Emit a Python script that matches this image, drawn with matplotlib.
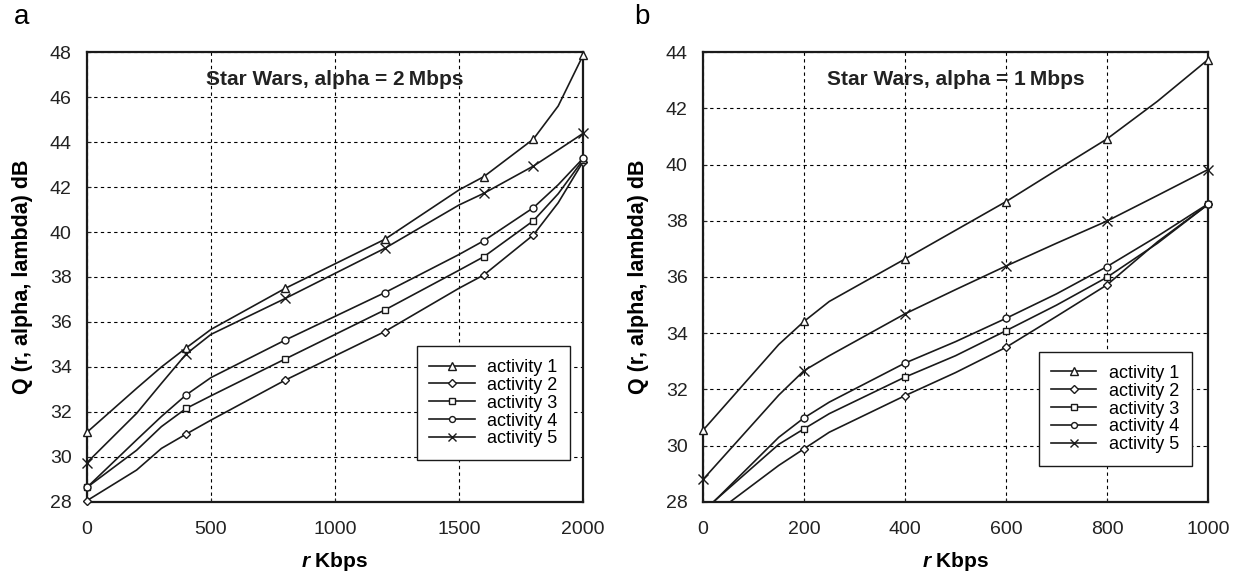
import matplotlib.pyplot as plt
from matplotlib.lines import Line2D

plt.rcParams["font.family"] = ["Liberation Sans", "DejaVu Sans"]
plt.rcParams["mathtext.fontset"] = "custom"
plt.rcParams["mathtext.it"] = "Liberation Sans:italic:bold"
plt.rcParams["mathtext.rm"] = "Liberation Sans:bold"

labels = ["activity 1", "activity 2", "activity 3", "activity 4", "activity 5"]
markers = ["^", "D", "s", "o", "x"]
msizes = [6, 4.5, 5, 5, 7]

# panel a: alpha = 2 Mbps
r_a = [0, 200, 300, 400, 500, 800, 1200, 1500, 1600, 1800, 1900, 2000]
mark_a = [0, 3, 5, 6, 8, 9, 11]
q_a1 = [31.1, 33.05, 34.0, 34.85, 35.67, 37.5, 39.67, 41.87, 42.46, 44.13, 45.6, 47.85]
q_a2 = [28.06, 29.42, 30.38, 31.02, 31.64, 33.42, 35.57, 37.5, 38.09, 39.87, 41.3, 43.12]
q_a3 = [28.65, 30.3, 31.35, 32.16, 32.72, 34.36, 36.53, 38.3, 38.9, 40.5, 41.7, 43.2]
q_a4 = [28.65, 30.76, 31.8, 32.76, 33.53, 35.2, 37.3, 39.0, 39.61, 41.08, 42.1, 43.27]
q_a5 = [29.75, 31.94, 33.27, 34.58, 35.45, 37.05, 39.27, 41.2, 41.72, 42.93, 43.65, 44.38]

# panel b: alpha = 1 Mbps
r_b = [0, 150, 200, 250, 400, 500, 600, 700, 800, 900, 1000]
mark_b = [0, 2, 4, 6, 8, 10]
q_b1 = [30.55, 33.6, 34.42, 35.13, 36.64, 37.66, 38.68, 39.8, 40.91, 42.25, 43.73]
q_b2 = [27.28, 29.3, 29.89, 30.48, 31.78, 32.6, 33.5, 34.6, 35.72, 37.25, 38.58]
q_b3 = [27.68, 30.05, 30.6, 31.14, 32.44, 33.2, 34.09, 35.0, 35.99, 37.2, 38.58]
q_b4 = [27.63, 30.3, 30.99, 31.55, 32.94, 33.7, 34.53, 35.4, 36.37, 37.45, 38.6]
q_b5 = [28.8, 31.8, 32.67, 33.2, 34.69, 35.55, 36.39, 37.2, 37.99, 38.9, 39.82]

LC = "#1a1a1a"

fig = plt.figure(figsize=(12.5, 5.76), dpi=100)
ax_a = fig.add_axes([0.0696, 0.1285, 0.3968, 0.7812])
ax_b = fig.add_axes([0.5624, 0.1285, 0.4040, 0.7812])


def draw_panel(ax, r, series, marks, xlim, ylim, xticks, yticks, title, leg_anchor):
    for q, m, ms in zip(series, markers, msizes):
        ax.plot(r, q, "-", color=LC, lw=1.2, clip_on=True, zorder=3)
        idx = [i for i in marks if q[i] >= ylim[0]]
        ax.plot([r[i] for i in idx], [q[i] for i in idx], ls="none", marker=m,
                ms=ms, mfc="white", mec=LC, mew=1.0, clip_on=False, zorder=4)
    ax.set_xlim(*xlim)
    ax.set_ylim(*ylim)
    ax.set_xticks(xticks)
    ax.set_yticks(yticks)
    ax.grid(True, color="black", ls=(0, (3, 3)), lw=0.8)
    ax.set_axisbelow(True)
    for s in ax.spines.values():
        s.set_linewidth(1.6)
        s.set_color(LC)
    ax.tick_params(labelsize=14, colors="#222222", direction="in", length=3)
    ax.tick_params(axis="y", pad=11)
    ax.tick_params(axis="x", pad=14)
    ax.set_xlabel(r"$\mathit{r}$ Kbps", fontsize=15, fontweight="bold", labelpad=8)
    ax.set_ylabel("Q (r, alpha, lambda) dB", fontsize=15.5, fontweight="bold",
                  labelpad=12)
    ax.text(0.5, 0.94, title, transform=ax.transAxes, ha="center", va="center",
            fontsize=15, fontweight="bold", color="#222222")
    handles = [Line2D([0], [0], color=LC, lw=1.2, marker=m, ms=ms * 0.85,
                      mfc="white", mec=LC, mew=1.0)
               for m, ms in zip(markers, msizes)]
    leg = ax.legend(handles, labels, loc="lower right", bbox_to_anchor=leg_anchor,
                    borderaxespad=0, fancybox=False, framealpha=1, edgecolor=LC,
                    fontsize=13, handlelength=2.5, labelspacing=0.05,
                    handletextpad=0.7, borderpad=0.7)
    leg.get_frame().set_linewidth(1.0)
    leg.set_zorder(5)


draw_panel(ax_a, r_a, [q_a1, q_a2, q_a3, q_a4, q_a5], mark_a, (0, 2000), (28, 48),
           range(0, 2001, 500), range(28, 49, 2), "Star Wars, alpha = 2\u2009Mbps",
           (0.974, 0.093))
draw_panel(ax_b, r_b, [q_b1, q_b2, q_b3, q_b4, q_b5], mark_b, (0, 1000), (28, 44),
           range(0, 1001, 200), range(28, 45, 2), "Star Wars, alpha = 1\u2009Mbps",
           (0.968, 0.08))

fig.text(0.011, 0.958, "a", fontsize=20, ha="left", va="baseline")
fig.text(0.507, 0.958, "b", fontsize=20, ha="left", va="baseline")

fig.savefig("out.png", dpi=100)
